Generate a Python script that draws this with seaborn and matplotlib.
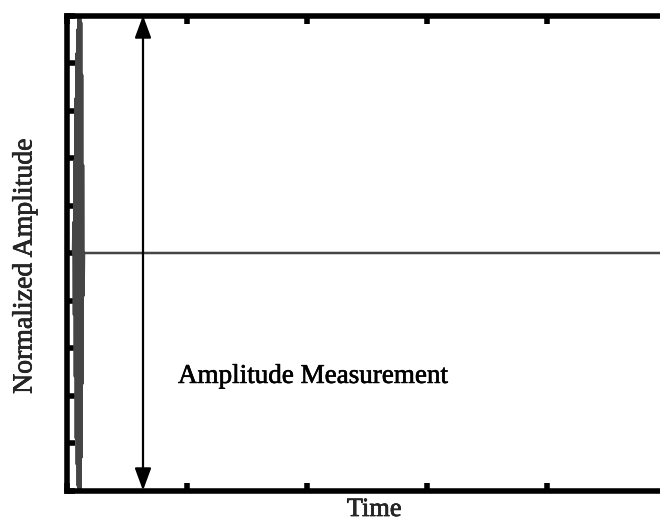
import matplotlib
matplotlib.use("Agg")
import matplotlib.pyplot as plt
import matplotlib.patheffects as pe
import pandas as pd
import seaborn as sns

# Received pulse: alternating extremes of a short burst (time in display units)
pulse_time = [0.054, 0.058, 0.062, 0.066, 0.070, 0.074, 0.078, 0.082,
              0.086, 0.090, 0.094, 0.098, 0.102, 0.106, 0.110, 0.114,
              0.118, 0.122, 0.126, 0.130, 0.134, 0.138, 0.142, 0.146]
pulse_amp = [0.00, 0.13, -0.26, 0.39, -0.52, 0.65, -0.78, 0.84,
             -0.89, 0.94, -0.98, 1.00, -1.00, 1.00, -1.00, 1.00,
             -1.00, 0.97, -0.86, 0.75, -0.55, 0.37, -0.18, 0.00]
# Quiet tail after the burst
tail_time = [0.146, 5.0]
tail_amp = [0.0, 0.0]

x_ticks = [0, 1, 2, 3, 4, 5]
y_ticks = [-1.0, -0.8, -0.6, -0.4, -0.2, 0.0, 0.2, 0.4, 0.6, 0.8, 1.0]

measure_x = 0.6375          # position of the amplitude arrow
measure_label = "Amplitude Measurement"

sns.set_style("ticks")
plt.rcParams["font.family"] = ["Liberation Serif", "DejaVu Serif"]

fig = plt.figure(figsize=(6.6, 5.22), dpi=100)
W, H = 660, 522
ax = fig.add_axes([66.5 / W, 31.5 / H, 600 / W, 475 / H])

signal = pd.DataFrame({
    "Time": pulse_time + tail_time,
    "Amplitude": pulse_amp + tail_amp,
})
sns.lineplot(data=signal, x="Time", y="Amplitude", estimator=None, sort=False,
             color="#454545", lw=1.8, ax=ax)

ax.set_xlim(0, 5)
ax.set_ylim(-1, 1)
ax.set_xticks(x_ticks)
ax.set_yticks(y_ticks)
ax.set_xticklabels([])
ax.set_yticklabels([])
ax.tick_params(direction="in", length=5.5, width=4, color="black",
               top=True, right=False, bottom=True, left=True)
for sp in ax.spines.values():
    sp.set_linewidth(4.0)
    sp.set_color("black")
    sp.set_capstyle("projecting")
    sp.set_visible(True)

# Double-headed arrow spanning the full amplitude range
ax.annotate("", xy=(measure_x, 1.0), xytext=(measure_x, -1.0),
            arrowprops=dict(arrowstyle="<|-|>,head_length=0.68,head_width=0.25",
                            mutation_scale=20, color="black", lw=1.6,
                            shrinkA=0, shrinkB=0))

heavy = [pe.withStroke(linewidth=0.45, foreground="black")]
ax.text(0.929, -0.547, measure_label, fontsize=19.5, ha="left",
        va="baseline", color="black", path_effects=heavy)

ax.set_xlabel("Time", fontsize=19, path_effects=heavy)
ax.set_ylabel("Normalized Amplitude", fontsize=20, path_effects=heavy)
ax.xaxis.label.set_va("baseline")
ax.xaxis.set_label_coords(0.513, -0.0537)
ax.yaxis.label.set_va("center")
ax.yaxis.label.set_rotation_mode("anchor")
ax.yaxis.set_label_coords(-0.0692, 0.4726)

fig.savefig("out.png", dpi=100)
